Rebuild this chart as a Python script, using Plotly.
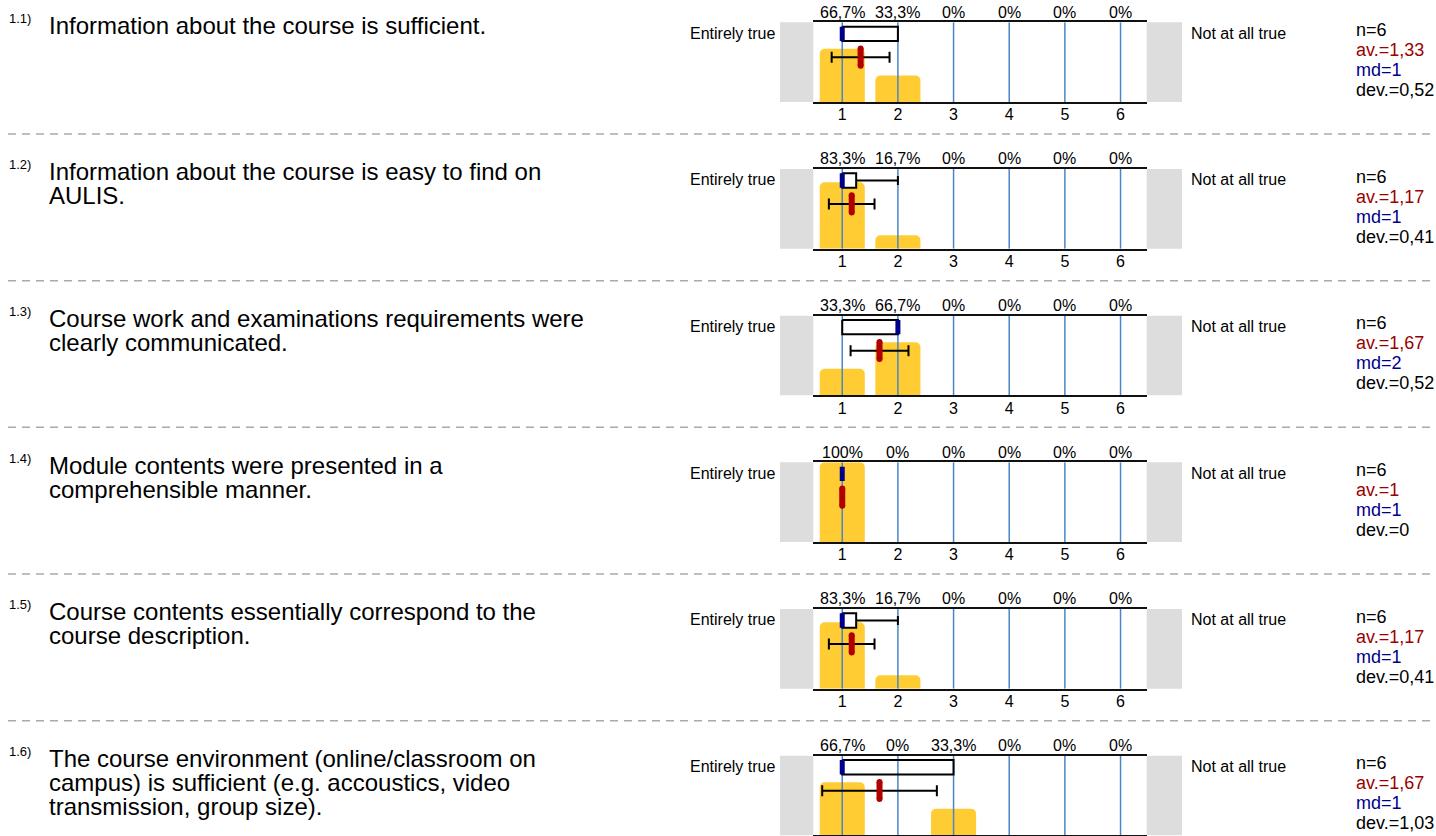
import plotly.graph_objects as go

# ---------------- data ----------------
ids = ["1.1)", "1.2)", "1.3)", "1.4)", "1.5)", "1.6)"]
questions = [
    ["Information about the course is sufficient."],
    ["Information about the course is easy to find on", "AULIS."],
    ["Course work and examinations requirements were", "clearly communicated."],
    ["Module contents were presented in a", "comprehensible manner."],
    ["Course contents essentially correspond to the", "course description."],
    ["The course environment (online/classroom on",
     "campus) is sufficient (e.g. accoustics, video",
     "transmission, group size)."],
]
scale = [1, 2, 3, 4, 5, 6]
left_label = "Entirely true"
right_label = "Not at all true"
pct = [
    [66.7, 33.3, 0, 0, 0, 0],
    [83.3, 16.7, 0, 0, 0, 0],
    [33.3, 66.7, 0, 0, 0, 0],
    [100, 0, 0, 0, 0, 0],
    [83.3, 16.7, 0, 0, 0, 0],
    [66.7, 0, 33.3, 0, 0, 0],
]
n_resp = [6, 6, 6, 6, 6, 6]
mean = [1.33, 1.17, 1.67, 1.0, 1.17, 1.67]
median = [1, 1, 2, 1, 1, 1]
dev = [0.52, 0.41, 0.52, 0.0, 0.41, 1.03]
q1 = [1, 1, 1, 1, 1, 1]
q3 = [2, 1.25, 2, 1, 1.25, 3]
whisker_hi = [2, 2, 2, 1, 2, 3]

# ---------------- styling / layout ----------------
W, H = 1436, 836
FONT = "Liberation Sans, Arial, sans-serif"
TOP0, PITCH, PH = 22.3, 146.67, 79.7
X0, X1 = 813.3, 1146.7
YELLOW = "#FFCC33"
GRID = "#4a86c8"
RED = "#b00000"
AVRED = "#9b0000"
NAVY = "#00008b"
BOX_T, BOX_B, BOX_C = 94.5, 76.5, 85.5
ERR_Y = 56.1


def fmt(v):
    s = f"{v:.2f}".rstrip("0").rstrip(".")
    return s.replace(".", ",")


def fmt_pct(v):
    s = f"{v:.1f}".rstrip("0").rstrip(".")
    return s.replace(".", ",") + "%"


fig = go.Figure()
shapes = []
annotations = []
layout_axes = {}

for k in range(6):
    sfx = "" if k == 0 else str(k + 1)
    xa, ya = "x" + sfx, "y" + sfx
    top = TOP0 + PITCH * k
    bottom = top + PH

    # bars
    fig.add_trace(go.Bar(x=scale, y=pct[k], width=0.81, xaxis=xa, yaxis=ya,
                         marker=dict(color=YELLOW, line=dict(width=0), cornerradius=5),
                         hoverinfo="skip"))
    # box fill
    bx = [q1[k], q3[k], q3[k], q1[k], q1[k]]
    by = [BOX_T, BOX_T, BOX_B, BOX_B, BOX_T]
    if q3[k] > q1[k]:
        fig.add_trace(go.Scatter(x=bx, y=by, mode="lines", fill="toself", fillcolor="white",
                                 line=dict(width=0), xaxis=xa, yaxis=ya, hoverinfo="skip"))
    # gridlines
    gx, gy = [], []
    for s in scale:
        gx += [s, s, None]
        gy += [0, 100, None]
    fig.add_trace(go.Scatter(x=gx, y=gy, mode="lines", line=dict(color=GRID, width=1.5),
                             xaxis=xa, yaxis=ya, hoverinfo="skip"))
    # box outline + whisker
    if q3[k] > q1[k]:
        fig.add_trace(go.Scatter(x=bx, y=by, mode="lines", line=dict(color="black", width=2),
                                 xaxis=xa, yaxis=ya, hoverinfo="skip"))
    if whisker_hi[k] > q3[k]:
        w = whisker_hi[k]
        fig.add_trace(go.Scatter(x=[q3[k], w, None, w, w],
                                 y=[BOX_C, BOX_C, None, BOX_C - 5.6, BOX_C + 5.6],
                                 mode="lines", line=dict(color="black", width=2),
                                 xaxis=xa, yaxis=ya, hoverinfo="skip"))
    # median
    fig.add_trace(go.Scatter(x=[median[k], median[k]], y=[BOX_B, BOX_T], mode="lines",
                             line=dict(color=NAVY, width=5), xaxis=xa, yaxis=ya,
                             hoverinfo="skip"))
    # std dev error bar
    if dev[k] > 0:
        lo, hi = mean[k] - dev[k], mean[k] + dev[k]
        fig.add_trace(go.Scatter(x=[lo, hi, None, lo, lo, None, hi, hi],
                                 y=[ERR_Y, ERR_Y, None, ERR_Y - 6.9, ERR_Y + 6.9, None,
                                    ERR_Y - 6.9, ERR_Y + 6.9],
                                 mode="lines", line=dict(color="black", width=2),
                                 xaxis=xa, yaxis=ya, hoverinfo="skip"))
    # mean
    fig.add_trace(go.Scatter(x=[mean[k], mean[k]], y=[45.5, 67], mode="lines+markers",
                             line=dict(color=RED, width=6),
                             marker=dict(color=RED, size=6, symbol="circle"),
                             xaxis=xa, yaxis=ya, hoverinfo="skip"))

    layout_axes["xaxis" + sfx] = dict(
        domain=[X0 / W, X1 / W], range=[0.48, 6.47], anchor=ya, automargin=False,
        showline=True, mirror=True, linecolor="#111", linewidth=2,
        showgrid=False, zeroline=False, ticks="", ticklabelstandoff=-3,
        tickvals=scale, ticktext=[str(s) for s in scale],
        tickfont=dict(size=16, color="black", family=FONT), fixedrange=True)
    layout_axes["yaxis" + sfx] = dict(
        domain=[1 - bottom / H, 1 - top / H], range=[0, 100], anchor=xa,
        automargin=False, visible=False, fixedrange=True)

    # gray side boxes
    for x0, x1 in [(-0.1, 0), (1, 1.106)]:
        shapes.append(dict(type="rect", xref=xa + " domain", yref=ya + " domain",
                           x0=x0, x1=x1, y0=0, y1=1, fillcolor="#dddddd",
                           line=dict(width=0), layer="below"))

    # percent labels
    for s, p in zip(scale, pct[k]):
        annotations.append(dict(x=s, y=1, xref=xa, yref=ya + " domain", text=fmt_pct(p),
                                showarrow=False, yanchor="middle", yshift=10,
                                font=dict(size=16, color="black", family=FONT)))
    # scale labels
    annotations.append(dict(x=688 / W, y=1, xref="paper", yref=ya + " domain",
                            text=left_label, showarrow=False, xanchor="left",
                            yanchor="middle", yshift=-11,
                            font=dict(size=16, color="black", family=FONT)))
    annotations.append(dict(x=1189 / W, y=1, xref="paper", yref=ya + " domain",
                            text=right_label, showarrow=False, xanchor="left",
                            yanchor="middle", yshift=-11,
                            font=dict(size=16, color="black", family=FONT)))
    # stats
    stats = [(f"n={n_resp[k]}", "black"), (f"av.={fmt(mean[k])}", AVRED),
             (f"md={fmt(median[k])}", NAVY), (f"dev.={fmt(dev[k])}", "black")]
    for i, (t, c) in enumerate(stats):
        annotations.append(dict(x=1354 / W, y=1, xref="paper", yref=ya + " domain",
                                text=t, showarrow=False, xanchor="left", yanchor="middle",
                                yshift=-(7.7 + 20 * i),
                                font=dict(size=18, color=c, family=FONT)))
    # question id and text
    annotations.append(dict(x=7 / W, y=1, xref="paper", yref=ya + " domain", text=ids[k],
                            showarrow=False, xanchor="left", yanchor="middle", yshift=4,
                            font=dict(size=13, color="black", family=FONT)))
    for i, line in enumerate(questions[k]):
        annotations.append(dict(x=47 / W, y=1, xref="paper", yref=ya + " domain", text=line,
                                showarrow=False, xanchor="left", yanchor="middle",
                                yshift=-(2.7 + 24 * i),
                                font=dict(size=24, color="black", family=FONT)))

    # dashed separator
    if k < 5:
        sy = 1 - (134 + PITCH * k) / H
        shapes.append(dict(type="line", xref="paper", yref="paper", x0=8 / W, x1=1430 / W,
                           y0=sy, y1=sy, line=dict(color="#aaaaaa", width=1.5, dash="8px,6px")))

fig.update_layout(
    width=W, height=H, margin=dict(l=0, r=0, t=0, b=0, autoexpand=False),
    paper_bgcolor="white", plot_bgcolor="white", showlegend=False,
    barmode="overlay", shapes=shapes, annotations=annotations,
    font=dict(family=FONT, color="black"), hovermode=False,
    **layout_axes)

fig.write_html("out.html", config={"displayModeBar": False},
               post_script="document.body.style.margin='0px';document.body.style.overflow='hidden';")
